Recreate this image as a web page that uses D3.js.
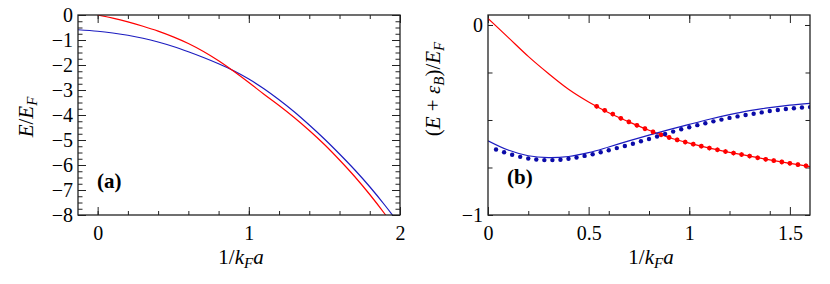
<!DOCTYPE html>
<html>
<head>
<meta charset="utf-8">
<script src="https://cdn.jsdelivr.net/npm/d3@7"></script>
<style>
  body { margin: 0; background: #fff; }
  svg { display: block; }
  text { font-family: "Liberation Serif", "Times New Roman", serif; }
</style>
</head>
<body>
<svg id="chart" width="830" height="284"></svg>
<script>
// panel (a): E/E_F against 1/k_F a
var aRedX = [0, 0.1, 0.2, 0.3, 0.4, 0.5, 0.6, 0.7, 0.8, 0.9, 1.0, 1.1, 1.2, 1.3, 1.4, 1.5, 1.6, 1.7, 1.8, 1.9, 2.0];
var aRedY = [0, -0.125, -0.275, -0.45, -0.645, -0.875, -1.14, -1.46, -1.83, -2.25, -2.7, -3.17, -3.62, -4.1, -4.62, -5.18, -5.8, -6.46, -7.18, -7.96, -8.8];
var aBlueX = [-0.13, 0, 0.1, 0.2, 0.3, 0.4, 0.5, 0.6, 0.7, 0.8, 0.9, 1.0, 1.1, 1.2, 1.3, 1.4, 1.5, 1.6, 1.7, 1.8, 1.9, 2.0];
var aBlueY = [-0.59, -0.65, -0.72, -0.81, -0.93, -1.08, -1.26, -1.47, -1.7, -1.95, -2.23, -2.56, -2.95, -3.39, -3.87, -4.4, -4.96, -5.56, -6.19, -6.87, -7.61, -8.4];

// panel (b): (E + eps_B)/E_F against 1/k_F a
var bRedX = [0, 0.1, 0.2, 0.3, 0.4, 0.5, 0.6, 0.7, 0.8, 0.9, 1.0, 1.1, 1.2, 1.3, 1.4, 1.5, 1.6];
var bRedY = [0.035, -0.065, -0.165, -0.255, -0.338, -0.405, -0.462, -0.51, -0.554, -0.592, -0.622, -0.648, -0.67, -0.69, -0.71, -0.728, -0.745];
var bBlueX = [0, 0.1, 0.2, 0.3, 0.4, 0.5, 0.6, 0.7, 0.8, 0.9, 1.0, 1.1, 1.2, 1.3, 1.4, 1.5, 1.6];
var bBlueY = [-0.609, -0.658, -0.688, -0.698, -0.692, -0.672, -0.642, -0.61, -0.58, -0.551, -0.523, -0.496, -0.472, -0.451, -0.435, -0.422, -0.412];

var redDotX = [0.54, 0.58, 0.62, 0.66, 0.70, 0.74, 0.78, 0.82, 0.86, 0.90, 0.94, 0.98, 1.02, 1.06, 1.10, 1.14, 1.18, 1.22, 1.26, 1.30, 1.34, 1.38, 1.42, 1.46, 1.50, 1.54, 1.58];
var redDotY = [-0.428, -0.449, -0.469, -0.491, -0.51, -0.528, -0.546, -0.563, -0.578, -0.592, -0.605, -0.616, -0.627, -0.638, -0.648, -0.657, -0.666, -0.674, -0.682, -0.69, -0.699, -0.707, -0.714, -0.721, -0.728, -0.735, -0.741];
var redDotErr = 0.012;

var blueDotX = [0.04, 0.08, 0.12, 0.16, 0.20, 0.24, 0.28, 0.32, 0.36, 0.40, 0.44, 0.48, 0.52, 0.56, 0.60, 0.64, 0.68, 0.72, 0.76, 0.80,
                0.84, 0.88, 0.92, 0.96, 1.00, 1.04, 1.08, 1.12, 1.16, 1.20, 1.24, 1.28, 1.32, 1.36, 1.40, 1.44, 1.48, 1.52, 1.56, 1.60];
var blueDotY = [-0.655, -0.670, -0.683, -0.694, -0.703, -0.708, -0.711, -0.711, -0.709, -0.704, -0.697, -0.689, -0.680, -0.670, -0.659, -0.648, -0.637, -0.625, -0.612, -0.600,
                -0.587, -0.574, -0.561, -0.549, -0.538, -0.527, -0.517, -0.507, -0.498, -0.489, -0.481, -0.474, -0.467, -0.460, -0.453, -0.447, -0.442, -0.438, -0.434, -0.432];

var aXTicks = [0, 1, 2];
var aXMinor = [0, 0.2, 0.4, 0.6, 0.8, 1, 1.2, 1.4, 1.6, 1.8, 2];
var aYTicks = [0, -1, -2, -3, -4, -5, -6, -7, -8];
var aYMinor = d3.range(-8, 0.01, 0.25);
var bXTicks = [0, 0.5, 1, 1.5];
var bXMinor = [0.2, 0.4, 0.6, 0.8, 1, 1.2, 1.4];
var bYTicks = [0, -1];
var bYMinor = [0, -0.25, -0.5, -0.75, -1];

var RED = "#ff0000", BLUE = "#1c1cc0";
var SERIF = "'Liberation Serif', 'Times New Roman', serif";
var svg = d3.select("#chart");

function zip(xs, ys) { return xs.map(function (x, i) { return [x, ys[i]]; }); }
function noDomain(s) { s.select(".domain").remove(); }

function panel(opt) {
    var x = d3.scaleLinear().domain(opt.xDomain).range([opt.left, opt.right]);
    var y = d3.scaleLinear().domain(opt.yDomain).range([opt.bottom, opt.top]);
    var g = svg.append("g");

    var clipId = "clip-" + opt.name;
    g.append("clipPath").attr("id", clipId).append("rect")
        .attr("x", opt.left).attr("y", opt.top)
        .attr("width", opt.right - opt.left).attr("height", opt.bottom - opt.top);

    var fmt = d3.format("");
    // ticks point inwards on all four sides
    g.append("g").attr("transform", "translate(0," + opt.bottom + ")")
        .call(d3.axisBottom(x).tickValues(opt.xTicks).tickSize(-opt.xMajor).tickPadding(11).tickFormat(fmt)).call(noDomain);
    g.append("g").attr("transform", "translate(0," + opt.top + ")")
        .call(d3.axisTop(x).tickValues(opt.xTicks).tickSize(-opt.xMajor).tickFormat("")).call(noDomain);
    g.append("g").attr("transform", "translate(0," + opt.bottom + ")")
        .call(d3.axisBottom(x).tickValues(opt.xMinor).tickSize(-4).tickFormat("")).call(noDomain);
    g.append("g").attr("transform", "translate(0," + opt.top + ")")
        .call(d3.axisTop(x).tickValues(opt.xMinor).tickSize(-4).tickFormat("")).call(noDomain);

    g.append("g").attr("transform", "translate(" + opt.left + ",0)")
        .call(d3.axisLeft(y).tickValues(opt.yTicks).tickSize(-opt.yMajor).tickPadding(5).tickFormat(fmt)).call(noDomain);
    g.append("g").attr("transform", "translate(" + opt.right + ",0)")
        .call(d3.axisRight(y).tickValues(opt.yTicks).tickSize(-opt.yMajor).tickFormat("")).call(noDomain);
    g.append("g").attr("transform", "translate(" + opt.left + ",0)")
        .call(d3.axisLeft(y).tickValues(opt.yMinor).tickSize(-4.5).tickFormat("")).call(noDomain);
    g.append("g").attr("transform", "translate(" + opt.right + ",0)")
        .call(d3.axisRight(y).tickValues(opt.yMinor).tickSize(-4.5).tickFormat("")).call(noDomain);

    g.selectAll(".tick line").attr("stroke", "#222").attr("stroke-width", 1);
    g.selectAll("g").attr("font-family", SERIF).attr("font-size", 20);
    g.selectAll(".tick text").attr("fill", "#000");

    var plot = g.append("g").attr("clip-path", "url(#" + clipId + ")");
    var line = d3.line()
        .x(function (d) { return x(d[0]); })
        .y(function (d) { return y(d[1]); })
        .curve(d3.curveCatmullRom.alpha(0.5));

    opt.lines.forEach(function (l) {
        plot.append("path").datum(l.data).attr("d", line)
            .attr("fill", "none").attr("stroke", l.color).attr("stroke-width", 1.2);
    });

    if (opt.dots) opt.dots.forEach(function (d) {
        if (d.err) {
            plot.selectAll(null).data(d.data).enter().append("line")
                .attr("x1", function (p) { return x(p[0]); })
                .attr("x2", function (p) { return x(p[0]); })
                .attr("y1", function (p) { return y(p[1] + d.err); })
                .attr("y2", function (p) { return y(p[1] - d.err); })
                .attr("stroke", d.color).attr("stroke-width", 1);
        }
        plot.selectAll(null).data(d.data).enter().append("circle")
            .attr("cx", function (p) { return x(p[0]); })
            .attr("cy", function (p) { return y(p[1]); })
            .attr("r", d.r).attr("fill", d.color);
    });

    g.append("rect")
        .attr("x", opt.left).attr("y", opt.top)
        .attr("width", opt.right - opt.left).attr("height", opt.bottom - opt.top)
        .attr("fill", "none").attr("stroke", "#222").attr("stroke-width", 1.3);

    g.append("text")
        .attr("x", x(opt.tagX)).attr("y", y(opt.tagY))
        .attr("font-family", SERIF).attr("font-weight", "bold").attr("font-size", 21)
        .text(opt.tag);

    // x label: 1/k_F a
    var xl = g.append("text")
        .attr("x", (opt.left + opt.right) / 2 + 2).attr("y", 264)
        .attr("text-anchor", "middle").attr("font-family", SERIF).attr("font-size", 21);
    xl.append("tspan").text("1/");
    xl.append("tspan").attr("font-style", "italic").text("k");
    xl.append("tspan").attr("font-style", "italic").attr("font-size", 15).attr("dy", 4).text("F");
    xl.append("tspan").attr("font-style", "italic").attr("dy", -4).text("a");

    opt.yLabel(g);
    return g;
}

panel({
    name: "a", left: 78, right: 400, top: 15, bottom: 215,
    xDomain: [-0.13, 2], yDomain: [-8, 0],
    xTicks: aXTicks, xMinor: aXMinor, yTicks: aYTicks, yMinor: aYMinor,
    xMajor: 8, yMajor: 8,
    lines: [
        { data: zip(aBlueX, aBlueY), color: BLUE },
        { data: zip(aRedX, aRedY), color: RED }
    ],
    tag: "(a)", tagX: -0.005, tagY: -6.9,
    yLabel: function (g) {
        var t = g.append("text")
            .attr("transform", "translate(33,117) rotate(-90)")
            .attr("text-anchor", "middle").attr("font-family", SERIF).attr("font-size", 21);
        t.append("tspan").attr("font-style", "italic").text("E");
        t.append("tspan").text("/");
        t.append("tspan").attr("font-style", "italic").text("E");
        t.append("tspan").attr("font-style", "italic").attr("font-size", 15).attr("dy", 4).text("F");
    }
});

panel({
    name: "b", left: 488, right: 810, top: 15, bottom: 215,
    xDomain: [0, 1.6], yDomain: [-1, 0.0526],
    xTicks: bXTicks, xMinor: bXMinor, yTicks: bYTicks, yMinor: bYMinor,
    xMajor: 8, yMajor: 5,
    lines: [
        { data: zip(bRedX, bRedY), color: RED },
        { data: zip(bBlueX, bBlueY), color: BLUE }
    ],
    dots: [
        { data: zip(redDotX, redDotY), color: RED, r: 2.4, err: redDotErr },
        { data: zip(blueDotX, blueDotY), color: "#0a0aa8", r: 2.2 }
    ],
    tag: "(b)", tagX: 0.095, tagY: -0.835,
    yLabel: function (g) {
        var t = g.append("text")
            .attr("transform", "translate(440,89) rotate(-90)")
            .attr("text-anchor", "middle").attr("font-family", SERIF).attr("font-size", 21);
        t.append("tspan").text("(");
        t.append("tspan").attr("font-style", "italic").text("E");
        t.append("tspan").text(" + ");
        t.append("tspan").attr("font-style", "italic").text("ε");
        t.append("tspan").attr("font-style", "italic").attr("font-size", 15).attr("dy", 4).text("B");
        t.append("tspan").attr("dy", -4).text(")/");
        t.append("tspan").attr("font-style", "italic").text("E");
        t.append("tspan").attr("font-style", "italic").attr("font-size", 15).attr("dy", 4).text("F");
    }
});
</script>
</body>
</html>
